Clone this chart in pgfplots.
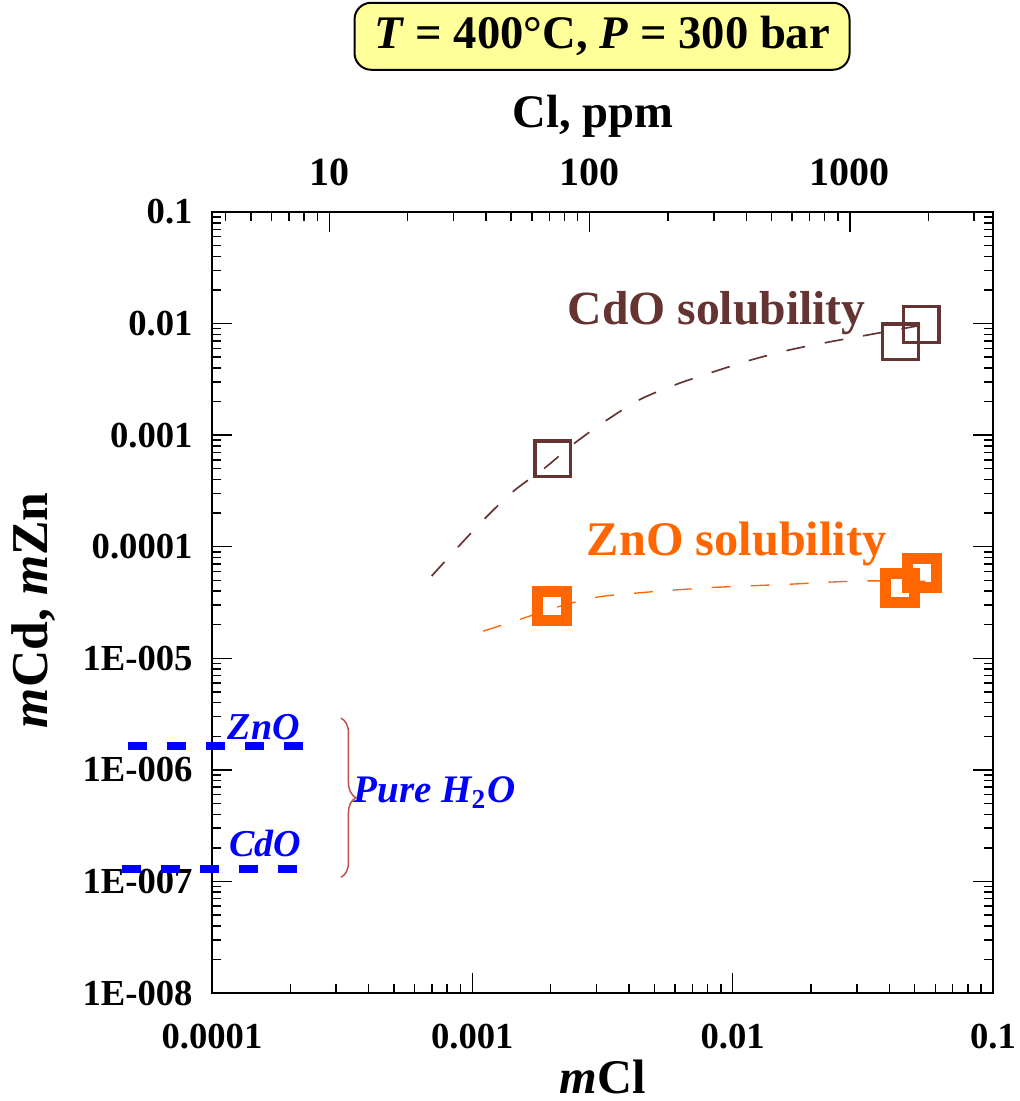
\documentclass[border=0pt]{standalone}
\usepackage{fontspec}
\setmainfont{Liberation Serif}
\usepackage{pgfplots}
\pgfplotsset{compat=1.18}
\usetikzlibrary{decorations.pathreplacing}
\definecolor{cdo}{RGB}{102,51,51}
\definecolor{zno}{RGB}{255,102,0}
\definecolor{brc}{RGB}{192,80,77}
\definecolor{titlebg}{RGB}{255,255,153}
\begin{document}
\begin{tikzpicture}
\begin{axis}[name=main,
  scale only axis, width=234.3pt, height=234.3pt,
  xmode=log, ymode=log,
  xmin=1e-4, xmax=0.1, ymin=1e-8, ymax=0.1,
  clip=false,
  xtick={1e-4,1e-3,1e-2,1e-1}, xticklabels={0.0001,0.001,0.01,0.1},
  minor xtick={2e-4,3e-4,4e-4,5e-4,6e-4,7e-4,8e-4,9e-4,
               2e-3,3e-3,4e-3,5e-3,6e-3,7e-3,8e-3,9e-3,
               2e-2,3e-2,4e-2,5e-2,6e-2,7e-2,8e-2,9e-2},
  ytick={1e-8,1e-7,1e-6,1e-5,1e-4,1e-3,1e-2,1e-1},
  yticklabels={1E-008,1E-007,1E-006,1E-005,0.0001,0.001,0.01,0.1},
  minor ytick={2e-8,3e-8,4e-8,5e-8,6e-8,7e-8,8e-8,9e-8,
               2e-7,3e-7,4e-7,5e-7,6e-7,7e-7,8e-7,9e-7,
               2e-6,3e-6,4e-6,5e-6,6e-6,7e-6,8e-6,9e-6,
               2e-5,3e-5,4e-5,5e-5,6e-5,7e-5,8e-5,9e-5,
               2e-4,3e-4,4e-4,5e-4,6e-4,7e-4,8e-4,9e-4,
               2e-3,3e-3,4e-3,5e-3,6e-3,7e-3,8e-3,9e-3,
               2e-2,3e-2,4e-2,5e-2,6e-2,7e-2,8e-2,9e-2},
  xtick pos=left,
  tick align=inside,
  major tick length=6pt, minor tick length=2.7pt,
  axis line style={line width=0.6pt},
  every tick/.style={black, line width=0.45pt},
  tick label style={font=\fontsize{11}{13}\selectfont\bfseries},
  yticklabel style={xshift=-2.3pt},
  xticklabel style={yshift=-5.8pt},
  xlabel={\textit{m}Cl},
  xlabel style={font=\fontsize{14.5}{17}\selectfont\bfseries, at={(axis description cs:0.5,-0.108)}, anchor=center},
  ylabel={\textit{m}Cd, \textit{m}Zn},
  ylabel style={font=\fontsize{15.5}{18}\selectfont\bfseries, at={(axis description cs:-0.228,0.49)}, anchor=center, rotate=0},
]
% CdO model curve
\addplot[cdo, line width=0.5pt, dash pattern=on 5.7pt off 6pt, smooth] coordinates {
(6.98e-4,5.46e-5) (8.83e-4,9.98e-5) (1.12e-3,1.80e-4) (1.44e-3,3.15e-4)
(1.90e-3,5.09e-4) (2.48e-3,8.53e-4) (3.28e-3,1.36e-3) (4.41e-3,2.09e-3)
(6.10e-3,2.86e-3) (8.43e-3,3.69e-3) (1.17e-2,4.70e-3) (1.64e-2,5.78e-3)
(2.30e-2,6.78e-3) (3.27e-2,7.87e-3) (5.33e-2,9.68e-3)};
% ZnO model curve
\addplot[zno, line width=0.4pt, dash pattern=on 5.7pt off 6pt, smooth] coordinates {
(1.10e-3,1.75e-5) (1.52e-3,2.23e-5) (2.13e-3,2.89e-5) (2.96e-3,3.51e-5)
(4.14e-3,3.82e-5) (5.90e-3,4.08e-5) (8.41e-3,4.31e-5) (1.19e-2,4.47e-5)
(1.69e-2,4.62e-5) (2.37e-2,4.82e-5) (3.37e-2,4.94e-5) (5.58e-2,4.89e-5)};
% CdO data
\addplot[only marks, mark=square, mark size=5.36pt, mark options={draw=cdo, line width=1pt, solid}] coordinates {
(2.04e-3,6.12e-4) (0.0441,6.85e-3) (0.0530,9.84e-3)};
% ZnO data
\addplot[only marks, mark=square, mark size=4.35pt, mark options={draw=zno, line width=3.3pt, solid}] coordinates {
(2.03e-3,2.96e-5) (0.0440,4.23e-5) (0.0533,5.79e-5)};
% pure water
\addplot[blue, line width=2.3pt, dash pattern=on 5.7pt off 6pt] coordinates {(4.76e-5,1.63e-6) (2.24e-4,1.63e-6)};
\addplot[blue, line width=2.3pt, dash pattern=on 5.7pt off 6pt] coordinates {(4.51e-5,1.29e-7) (2.12e-4,1.29e-7)};
\node[blue, font=\fontsize{11.4}{13}\selectfont\bfseries\itshape] at (axis cs:1.58e-4,2.42e-6) {ZnO};
\node[blue, font=\fontsize{11.4}{13}\selectfont\bfseries\itshape] at (axis cs:1.60e-4,2.21e-7) {CdO};
\node[blue, font=\fontsize{11.7}{13}\selectfont\bfseries\itshape, anchor=base west, inner sep=0pt] at (axis cs:3.48e-4,5.05e-7) {Pure H$_{\mathbf{2}}$O};
\draw[brc, line width=0.45pt, decorate, decoration={brace, amplitude=4.5pt}] (axis cs:3.13e-4,2.91e-6) -- (axis cs:3.13e-4,1.09e-7);
\node[cdo, font=\fontsize{14.3}{17}\selectfont\bfseries, anchor=base west, inner sep=0pt] at (axis cs:2.31e-3,9.88e-3) {CdO solubility};
\node[zno, font=\fontsize{14.5}{17}\selectfont\bfseries, anchor=base west, inner sep=0pt] at (axis cs:2.74e-3,8.41e-5) {ZnO solubility};
% top labels
\node[font=\fontsize{14}{17}\selectfont\bfseries] at (axis description cs:0.488,1.123) {Cl, ppm};
\node[draw=black, line width=0.6pt, fill=titlebg, rounded corners=5pt, minimum width=148.5pt, minimum height=20.1pt, font=\fontsize{14}{17}\selectfont\bfseries] at (axis description cs:0.4994,1.225) {\textit{T} = 400°C, \textit{P} = 300 bar};
\end{axis}
\begin{axis}[
  scale only axis, width=234.3pt, height=234.3pt,
  xmode=log, xmin=3.5453, xmax=3545.3, ymin=0, ymax=1,
  hide y axis,
  xtick pos=right,
  xtick={10,100,1000}, xticklabels={10,100,1000},
  minor xtick={4,5,6,7,8,9,20,30,40,50,60,70,80,90,200,300,400,500,600,700,800,900,2000,3000},
  tick align=inside,
  major tick length=6pt, minor tick length=2.7pt,
  axis line style={line width=0.6pt},
  every tick/.style={black, line width=0.45pt},
  tick label style={font=\fontsize{12}{14}\selectfont\bfseries},
  xticklabel style={yshift=4.4pt},
]
\addplot[draw=none] coordinates {(10,0.5)};
\end{axis}
\pgfresetboundingbox
\path ([shift={(-63.6pt,-32.4pt)}]main.south west) rectangle ([shift={(7.8pt,63.6pt)}]main.north east);
\end{tikzpicture}
\end{document}
